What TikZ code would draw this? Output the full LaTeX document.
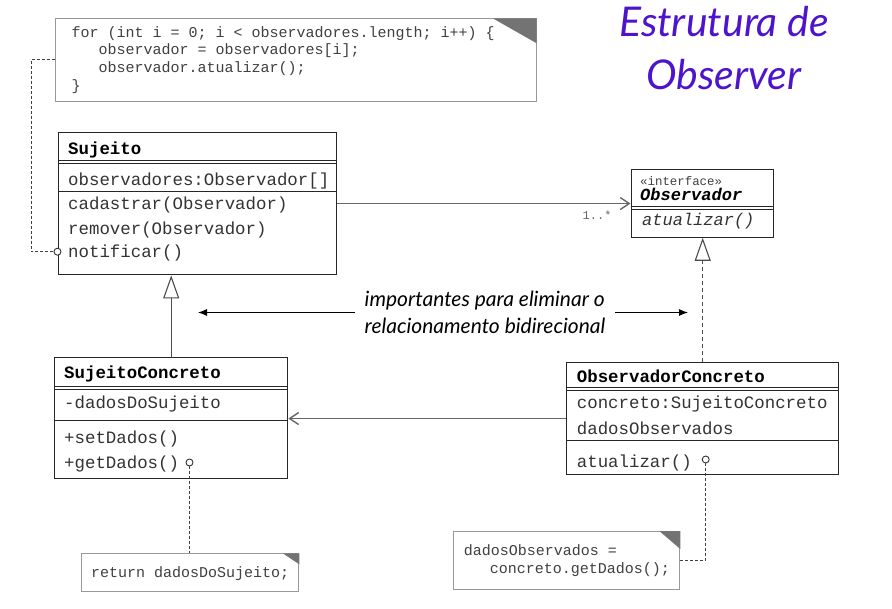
\documentclass[tikz,border=0pt]{standalone}
\usepackage{fontspec}
\setmonofont{Liberation Mono}
\setsansfont{Lato}
\usetikzlibrary{arrows.meta}
\definecolor{titleviolet}{RGB}{78,20,204}
\newcommand{\monospacing}{\spaceskip=0.6em\relax\xspaceskip=0.6em\relax}

\begin{document}
\begin{tikzpicture}[x=1pt, y=-1pt,
            umlclass/.style={rectangle, draw=black!85, fill=white, line width=1.1pt, anchor=north west, inner sep=0pt},
            classname/.style={anchor=mid west, inner sep=0pt, text=black, font=\fontsize{17.4}{20}\selectfont\ttfamily\bfseries},
            member/.style={anchor=mid west, inner sep=0pt, text=black!80, font=\fontsize{17.4}{20}\selectfont\ttfamily},
            umlnote/.style={rectangle, draw=black!40, fill=white, line width=1pt, anchor=north west, inner ysep=0pt, align=flush left, text=black!75, font=\fontsize{15}{17.8}\selectfont\ttfamily, execute at begin node=\monospacing},
            dogear/.style={fill=black!55},
            sepline/.style={draw=black!85, line width=0.9pt},
            pin/.style={circle, draw=black!80, fill=white, line width=0.9pt, inner sep=0pt, minimum size=7pt},
            assoc/.style={draw=black!60, line width=1.4pt, -{Straight Barb[length=9pt, width=12pt]}},
            inherit/.style={draw=black!70, line width=1.1pt, -{Triangle[open, length=23pt, width=16pt, fill=white]}},
            realize/.style={inherit, dash pattern=on 4pt off 3pt},
            notelink/.style={draw=black!75, line width=1pt, dash pattern=on 3pt off 2pt},
            hint/.style={draw=black, line width=1pt, -{Latex[length=9pt, width=7pt]}},
        ]
            \useasboundingbox (0,0) rectangle (892,609);

            %Title
            \node[text=titleviolet, align=center, font=\fontsize{41}{53}\selectfont\sffamily\itshape] (title) at (724,48) {Estrutura de\\Observer};

            %Notes
            \node[umlnote, text width=448.7pt, inner xsep=16pt, minimum height=82.4pt] (loopnote) at (55,18.3)
                {for (int i = 0; i < observadores.length; i++) \{\\
                 \hspace*{1.8em}observador = observadores[i];\\
                 \hspace*{1.8em}observador.atualizar();\\
                 \}};
            \fill[dogear] ([xshift=-44pt]loopnote.north east) -- (loopnote.north east) -- ([yshift=-25pt]loopnote.north east) -- cycle;

            \node[umlnote, text width=201.6pt, inner xsep=8pt, minimum height=37.4pt, text depth=1pt] (retnote) at (80.7,553.3)
                {\hspace*{2pt}return dadosDoSujeito;};
            \fill[dogear] ([xshift=-16.6pt]retnote.north east) -- (retnote.north east) -- ([yshift=-11pt]retnote.north east) -- cycle;

            \node[umlnote, text width=208pt, inner xsep=9pt, minimum height=58pt] (obsnote) at (453.3,531)
                {\hspace*{1pt}dadosObservados =\\
                 \hspace*{1.8em}concreto.getDados();};
            \fill[dogear] ([xshift=-21pt]obsnote.north east) -- (obsnote.north east) -- ([yshift=-18pt]obsnote.north east) -- cycle;

            %Sujeito
            \node[umlclass, minimum width=278pt, minimum height=142.6pt] (sujeito) at (58,131.7) {};
            \node[classname] (sujeitoname) at (68,152.5) {Sujeito};
            \draw[sepline] (58,160) -- (336,160);
            \draw[sepline] (58,163) -- (336,163);
            \node[member] (sujeitoattr) at (68,183) {observadores:Observador[]};
            \draw[sepline] (58,191.5) -- (336,191.5);
            \node[member] (cadastrar) at (68,207.5) {cadastrar(Observador)};
            \node[member] (remover) at (68,232) {remover(Observador)};
            \node[member] (notificar) at (68,255.5) {notificar()};
            \node[pin] (notifpin) at (57.5,251.7) {};

            %Observador
            \node[umlclass, minimum width=142.5pt, minimum height=67.4pt] (observador) at (630.5,169.3) {};
            \node[member, text=black!75, font=\fontsize{12.4}{14}\selectfont\ttfamily] (stereo) at (640,183) {«interface»};
            \node[classname, font=\fontsize{17}{20}\selectfont\ttfamily\bfseries\itshape] (observadorname) at (640,198.5) {Observador};
            \draw[sepline] (630.5,206.7) -- (773,206.7);
            \draw[sepline] (630.5,209.3) -- (773,209.3);
            \node[member, font=\fontsize{17}{20}\selectfont\ttfamily\itshape] (atualizarint) at (642,223.5) {atualizar()};

            %SujeitoConcreto
            \node[umlclass, minimum width=233.3pt, minimum height=120.4pt] (sujconc) at (54,357.3) {};
            \node[classname] (sujconcname) at (64,376.8) {SujeitoConcreto};
            \draw[sepline] (54,386.7) -- (287.3,386.7);
            \draw[sepline] (54,389.3) -- (287.3,389.3);
            \node[member] (dadosdosujeito) at (64,406.8) {-dadosDoSujeito};
            \draw[sepline] (54,420) -- (287.3,420);
            \node[member] (setdados) at (64,441) {+setDados()};
            \node[member] (getdados) at (64,466.5) {+getDados()};
            \node[pin] (getpin) at (189.5,462.5) {};

            %ObservadorConcreto
            \node[umlclass, minimum width=272.3pt, minimum height=112.6pt] (obsconc) at (566,361.7) {};
            \node[classname] (obsconcname) at (576.7,380.2) {ObservadorConcreto};
            \draw[sepline] (566,387.5) -- (838.3,387.5);
            \draw[sepline] (566,390) -- (838.3,390);
            \node[member] (concreto) at (576.7,406.2) {concreto:SujeitoConcreto};
            \node[member] (dadosobs) at (576.7,432) {dadosObservados};
            \draw[sepline] (566,440) -- (838.3,440);
            \node[member] (atualizarconc) at (576.7,465) {atualizar()};
            \node[pin] (atualpin) at (705.7,459.5) {};

            %Remark
            \node[align=left, inner xsep=10pt, font=\fontsize{21}{27}\selectfont\sffamily\itshape] (remark) at (485,312.5)
                {importantes para eliminar o\\relacionamento bidirecional};
            \coordinate (leftend) at (198,312.5);
            \coordinate (rightend) at (688,312.5);

            %Lines
            \draw[assoc] (sujeito.east |- observador.west) -- node[pos=1, anchor=north east, xshift=-15pt, yshift=-3pt, text=black!60, font=\fontsize{12}{14}\selectfont\ttfamily] (mult) {1..*} (observador.west);
            \draw[inherit] (sujconc.north) -- (sujconc.north |- sujeito.south);
            \draw[realize] (obsconc.north) -- (obsconc.north |- observador.south);
            \draw[assoc] (obsconc.west) -- (obsconc.west -| sujconc.east);
            \draw[hint] (remark.west) -- (leftend);
            \draw[hint] (remark.east) -- (rightend);
            \draw[notelink] (loopnote.west) -- ++(-24,0) |- (notifpin.west);
            \draw[notelink] (getpin.south) -- (getpin.south |- retnote.north);
            \draw[notelink] (atualpin.south) |- (obsnote.east);
\end{tikzpicture}
\end{document}
